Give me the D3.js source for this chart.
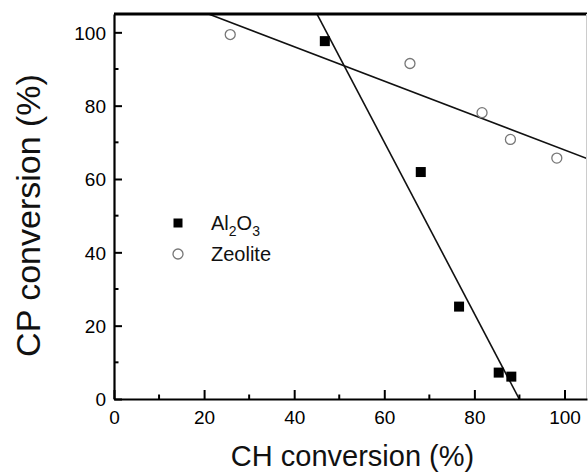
<!DOCTYPE html>
<html>
<head>
<meta charset="utf-8">
<script src="https://cdn.jsdelivr.net/npm/d3@7"></script>
<style>
  body { margin: 0; background: #fff; }
  text { font-family: "Liberation Sans", Arial, sans-serif; fill: #111; }
</style>
</head>
<body>
<svg id="chart"></svg>
<script>
const width = 588;
const height = 474;

// data
const al2o3CH = [46.8, 68.1, 76.6, 85.4, 88.2];
const al2o3CP = [97.6, 61.9, 25.2, 7.2, 6.1];
const zeoliteCH = [25.8, 65.7, 81.7, 88.0, 98.3];
const zeoliteCP = [99.4, 91.5, 78.1, 70.8, 65.7];
const xTicks = [0, 20, 40, 60, 80, 100];
const yTicks = [0, 20, 40, 60, 80, 100];

const margin = {top: 14, right: 1, bottom: 75, left: 114};

const svg = d3.select("#chart")
    .attr("width", width)
    .attr("height", height);

const x = d3.scaleLinear().domain([0, 105]).range([margin.left, width - margin.right]);
const y = d3.scaleLinear().domain([0, 105]).range([height - margin.bottom, margin.top]);

svg.append("clipPath").attr("id", "clip")
  .append("rect")
    .attr("x", x(0)).attr("y", y(105))
    .attr("width", x(105) - x(0)).attr("height", y(0) - y(105));

// least squares fit for each series
function fit(xs, ys) {
  const mx = d3.mean(xs), my = d3.mean(ys);
  const sxy = d3.sum(xs, (v, i) => (v - mx) * (ys[i] - my));
  const sxx = d3.sum(xs, v => (v - mx) * (v - mx));
  const b = sxy / sxx;
  return {b: b, a: my - b * mx};
}

const lines = [fit(al2o3CH, al2o3CP), fit(zeoliteCH, zeoliteCP)];

svg.append("g")
    .attr("clip-path", "url(#clip)")
  .selectAll("line")
  .data(lines)
  .join("line")
    .attr("x1", x(0)).attr("x2", x(105))
    .attr("y1", d => y(d.a))
    .attr("y2", d => y(d.a + d.b * 105))
    .attr("stroke", "#111")
    .attr("stroke-width", 1.6);

// frame: thick top, thin grey right
svg.append("line")
    .attr("x1", x(0)).attr("x2", x(105))
    .attr("y1", y(105)).attr("y2", y(105))
    .attr("stroke", "#000").attr("stroke-width", 3);
svg.append("line")
    .attr("x1", x(105) - 0.5).attr("x2", x(105) - 0.5)
    .attr("y1", y(105)).attr("y2", y(0))
    .attr("stroke", "#ccc").attr("stroke-width", 1);

// axes
const xAxis = svg.append("g")
    .attr("transform", `translate(0,${y(0)})`)
    .call(d3.axisBottom(x).tickValues(xTicks).tickSize(-9).tickPadding(12).tickSizeOuter(0));
xAxis.append("g")
  .selectAll("line")
  .data([10, 30, 50, 70, 90])
  .join("line")
    .attr("x1", d => x(d)).attr("x2", d => x(d))
    .attr("y1", 0).attr("y2", -4.5)
    .attr("stroke", "#000").attr("stroke-width", 2);

const yAxis = svg.append("g")
    .attr("transform", `translate(${x(0)},0)`)
    .call(d3.axisLeft(y).tickValues(yTicks).tickSize(-8).tickPadding(8).tickSizeOuter(0));
yAxis.append("g")
  .selectAll("line")
  .data([10, 30, 50, 70, 90])
  .join("line")
    .attr("y1", d => y(d)).attr("y2", d => y(d))
    .attr("x1", 0).attr("x2", 4.5)
    .attr("stroke", "#000").attr("stroke-width", 2);

[xAxis, yAxis].forEach(g => {
  g.attr("font-size", 19).attr("font-family", "'Liberation Sans', Arial, sans-serif");
  g.select(".domain").attr("stroke", "#000").attr("stroke-width", 2.2);
  g.selectAll(".tick line").attr("stroke", "#000").attr("stroke-width", 2);
  g.selectAll(".tick text").attr("font-size", 19).style("fill", "#000");
});
yAxis.selectAll(".tick text").attr("dy", "0.36em");

// points
svg.append("g")
  .selectAll("rect")
  .data(al2o3CH)
  .join("rect")
    .attr("x", (d, i) => x(d) - 5)
    .attr("y", (d, i) => y(al2o3CP[i]) - 5)
    .attr("width", 10).attr("height", 10)
    .attr("fill", "#000");

svg.append("g")
  .selectAll("circle")
  .data(zeoliteCH)
  .join("circle")
    .attr("cx", d => x(d))
    .attr("cy", (d, i) => y(zeoliteCP[i]))
    .attr("r", 5)
    .attr("fill", "none")
    .attr("stroke", "#777")
    .attr("stroke-width", 1.3);

// legend
const legend = svg.append("g").attr("transform", "translate(178,223)");
legend.append("rect")
    .attr("x", -4.5).attr("y", -4.5).attr("width", 9).attr("height", 9)
    .attr("fill", "#000");
const t1 = legend.append("text").attr("x", 33).attr("y", 7).style("font-size", "20px");
t1.append("tspan").text("Al");
t1.append("tspan").text("2").style("font-size", "14px").attr("dy", 6);
t1.append("tspan").text("O").attr("dy", -6);
t1.append("tspan").text("3").style("font-size", "14px").attr("dy", 6);

legend.append("circle")
    .attr("cx", 0).attr("cy", 31).attr("r", 5)
    .attr("fill", "none").attr("stroke", "#777").attr("stroke-width", 1.3);
legend.append("text").attr("x", 33).attr("y", 38).style("font-size", "20px").text("Zeolite");

// axis titles
svg.append("text")
    .attr("x", (x(0) + x(105)) / 2 + 2)
    .attr("y", 466)
    .attr("text-anchor", "middle")
    .style("font-size", "29px")
    .text("CH conversion (%)");

svg.append("text")
    .attr("transform", `translate(40,${(y(0) + y(105)) / 2 + 9}) rotate(-90)`)
    .attr("text-anchor", "middle")
    .style("font-size", "34px")
    .text("CP conversion (%)");
</script>
</body>
</html>
